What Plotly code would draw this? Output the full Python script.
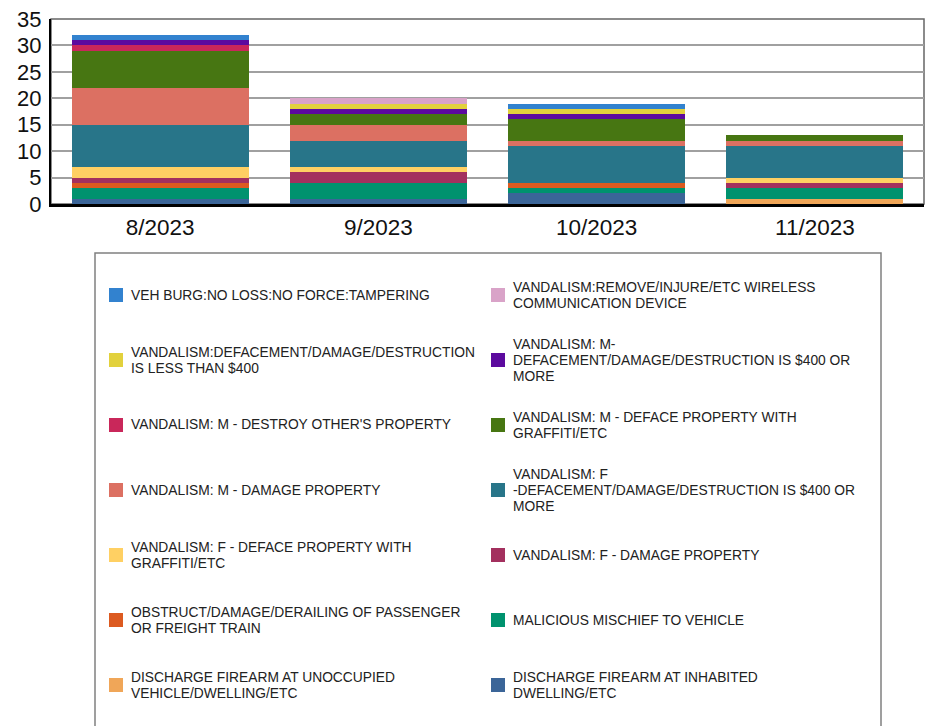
import plotly.graph_objects as go

# Monthly incident counts by offense type, listed from the bottom of each stack upward
months = ["8/2023", "9/2023", "10/2023", "11/2023"]

inhabited_dwelling = [1, 1, 2, 0]
unoccupied_vehicle = [0, 0, 0, 1]
malicious_vehicle = [2, 3, 1, 2]
obstruct_train = [1, 0, 1, 0]
f_damage_property = [1, 2, 0, 1]
f_deface_graffiti = [2, 1, 0, 1]
f_defacement_400 = [8, 5, 7, 6]
m_damage_property = [7, 3, 1, 1]
m_deface_graffiti = [7, 2, 4, 1]
m_destroy_property = [1, 0, 0, 0]
m_defacement_400 = [1, 1, 1, 0]
defacement_under_400 = [0, 1, 1, 0]
wireless_device = [0, 1, 0, 0]
veh_burg_tampering = [1, 0, 1, 0]

series_values = [
    inhabited_dwelling, unoccupied_vehicle, malicious_vehicle, obstruct_train,
    f_damage_property, f_deface_graffiti, f_defacement_400, m_damage_property,
    m_deface_graffiti, m_destroy_property, m_defacement_400, defacement_under_400,
    wireless_device, veh_burg_tampering,
]

series_names = [
    "DISCHARGE FIREARM AT INHABITED<br>DWELLING/ETC",
    "DISCHARGE FIREARM AT UNOCCUPIED<br>VEHICLE/DWELLING/ETC",
    "MALICIOUS MISCHIEF TO VEHICLE",
    "OBSTRUCT/DAMAGE/DERAILING OF PASSENGER<br>OR FREIGHT TRAIN",
    "VANDALISM: F - DAMAGE PROPERTY",
    "VANDALISM: F - DEFACE PROPERTY WITH<br>GRAFFITI/ETC",
    "VANDALISM: F<br>-DEFACEMENT/DAMAGE/DESTRUCTION IS $400 OR<br>MORE",
    "VANDALISM: M - DAMAGE PROPERTY",
    "VANDALISM: M - DEFACE PROPERTY WITH<br>GRAFFITI/ETC",
    "VANDALISM: M - DESTROY OTHER'S PROPERTY",
    "VANDALISM: M-<br>DEFACEMENT/DAMAGE/DESTRUCTION IS $400 OR<br>MORE",
    "VANDALISM:DEFACEMENT/DAMAGE/DESTRUCTION<br>IS LESS THAN $400",
    "VANDALISM:REMOVE/INJURE/ETC WIRELESS<br>COMMUNICATION DEVICE",
    "VEH BURG:NO LOSS:NO FORCE:TAMPERING",
]

series_colors = [
    "#3b6598", "#f0a658", "#00926e", "#dc5a20", "#a3305e", "#ffd063", "#287589",
    "#dc7062", "#477612", "#c9275a", "#5c0a9e", "#e2d13c", "#d9a3c8", "#3282cf",
]

y_ticks = [0, 5, 10, 15, 20, 25, 30, 35]

FONT = "Liberation Sans, Arial, sans-serif"

# Page geometry (pixels)
W, H = 941, 726
PLOT_L, PLOT_R, PLOT_T, PLOT_B = 51, 924, 19, 204


def px_x(x):
    return (x - PLOT_L) / (PLOT_R - PLOT_L)


def px_y(y):
    return (PLOT_B - y) / (PLOT_B - PLOT_T)


fig = go.Figure()
for name, vals, color in zip(series_names, series_values, series_colors):
    fig.add_trace(go.Bar(
        x=months, y=vals, name=name.replace("<br>", " "),
        marker=dict(color=color, line=dict(width=0)),
        showlegend=False,
    ))

shapes = []
annotations = []

# frame around the plotting area
shapes.append(dict(type="rect", xref="paper", yref="paper", x0=0, x1=1, y0=0, y1=1,
                   line=dict(color="#666666", width=1.5), layer="below"))

# legend box, two columns, entries ordered top of stack first
shapes.append(dict(type="rect", xref="paper", yref="paper",
                   x0=px_x(95), x1=px_x(881), y0=px_y(253), y1=px_y(760),
                   line=dict(color="#808080", width=1.5), fillcolor="rgba(0,0,0,0)"))

legend_order = list(range(len(series_names)))[::-1]
ROW0, ROW_STEP = 295, 65
SW_X = [109, 491]
TX_X = [130, 512]
SW = 14
LINE_H = 16
for k, idx in enumerate(legend_order):
    row, col = divmod(k, 2)
    cy = ROW0 + row * ROW_STEP
    shapes.append(dict(type="rect", xref="paper", yref="paper",
                       x0=px_x(SW_X[col]), x1=px_x(SW_X[col] + SW),
                       y0=px_y(cy - SW / 2), y1=px_y(cy + SW / 2),
                       line=dict(width=0), fillcolor=series_colors[idx]))
    lines = series_names[idx].split("<br>")
    n = len(lines)
    for j, line in enumerate(lines):
        ly = cy + (j - (n - 1) / 2) * LINE_H
        annotations.append(dict(xref="paper", yref="paper", x=px_x(TX_X[col]), y=px_y(ly),
                                xanchor="left", yanchor="middle", align="left",
                                text=line, showarrow=False, borderpad=0,
                                font=dict(family=FONT, size=13.8, color="#222222")))

fig.update_layout(
    width=W, height=H,
    margin=dict(l=PLOT_L, r=W - PLOT_R, t=PLOT_T, b=H - PLOT_B, pad=0, autoexpand=False),
    barmode="stack", bargap=0.19,
    paper_bgcolor="white", plot_bgcolor="white",
    font=dict(family=FONT, color="#111111"),
    shapes=shapes, annotations=annotations,
    showlegend=False,
)
fig.update_xaxes(
    automargin=False,
    showline=True, linecolor="black", linewidth=2.5,
    ticks="outside", ticklen=1, tickcolor="rgba(0,0,0,0)",
    tickfont=dict(family=FONT, size=22.5, color="#111111"),
    showgrid=False, fixedrange=True,
)
fig.update_yaxes(
    automargin=False,
    range=[0, 35], tickvals=y_ticks, ticktext=[str(v) for v in y_ticks],
    showline=True, linecolor="black", linewidth=2,
    ticks="outside", ticklen=3, tickcolor="rgba(0,0,0,0)",
    tickfont=dict(family=FONT, size=22, color="#111111"),
    showgrid=True, gridcolor="#a0a0a0", gridwidth=1.5,
    zeroline=False, fixedrange=True,
)

fig.write_html("out.html")
